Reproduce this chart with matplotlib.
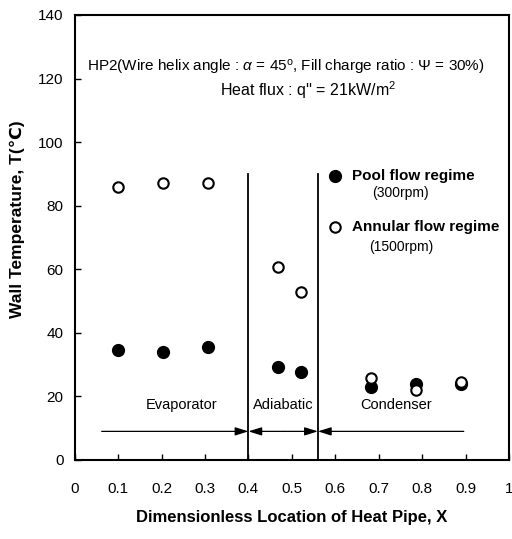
import matplotlib
matplotlib.use("Agg")
import matplotlib.pyplot as plt
from matplotlib import font_manager

# 使えるフォントを確認 (Narrow があれば使う)
names = set(f.name for f in font_manager.fontManager.ttflist)
base = 'Liberation Sans Narrow' if 'Liberation Sans Narrow' in names else 'Liberation Sans'
plt.rcParams['font.family'] = [base, 'DejaVu Sans']
plt.rcParams['mathtext.fontset'] = 'custom'
plt.rcParams['mathtext.it'] = base + ':italic'
plt.rcParams['mathtext.rm'] = base

# データ
x_pos = [0.10, 0.203, 0.307, 0.468, 0.522, 0.682, 0.786, 0.889]
pool_T = [34.6, 34.1, 35.6, 29.2, 27.8, 23.0, 24.0, 24.0]
annular_T = [86.0, 87.0, 87.0, 60.8, 52.9, 25.8, 22.0, 24.6]

section_bounds = [0.4, 0.56]
xticks = [0, 0.1, 0.2, 0.3, 0.4, 0.5, 0.6, 0.7, 0.8, 0.9, 1]
xticklabels = ['0', '0.1', '0.2', '0.3', '0.4', '0.5', '0.6', '0.7', '0.8', '0.9', '1']
yticks = [0, 20, 40, 60, 80, 100, 120, 140]

fig = plt.figure(figsize=(5.12, 5.39), dpi=100)
ax = fig.add_axes([0.146, 0.1466, 0.848, 0.8256])

ax.plot(x_pos, pool_T, 'o', color='black', markersize=8.5, zorder=3)
ax.plot(x_pos, annular_T, 'o', markerfacecolor='white', markeredgecolor='black',
        markeredgewidth=1.5, markersize=7.5, zorder=4)

# 区間の境界線
for b in section_bounds:
    ax.plot([b, b], [0, 90], color='black', lw=1.3)

# 矢印
ap = dict(arrowstyle='-|>,head_length=0.8,head_width=0.25', color='black', lw=0.9,
          shrinkA=0, shrinkB=0)
ay = 9
ax.annotate('', xy=(0.4, ay), xytext=(0.062, ay), arrowprops=ap)
ax.annotate('', xy=(0.4, ay), xytext=(0.48, ay), arrowprops=ap)
ax.annotate('', xy=(0.56, ay), xytext=(0.48, ay), arrowprops=ap)
ax.annotate('', xy=(0.56, ay), xytext=(0.896, ay), arrowprops=ap)

ax.text(0.245, 17.3, 'Evaporator', ha='center', va='center', fontsize=10.5)
ax.text(0.48, 17.3, 'Adiabatic', ha='center', va='center', fontsize=10.5)
ax.text(0.74, 17.3, 'Condenser', ha='center', va='center', fontsize=10.5)

# 条件の注記
ax.text(0.486, 123.6, r'HP2(Wire helix angle : $\alpha$ = 45$^{\rm o}$, Fill charge ratio : $\mathit{\Psi}$ = 30%)',
        ha='center', va='center', fontsize=11)
ax.text(0.537, 116.4, r"Heat flux : q'' = 21kW/m$^2$", ha='center', va='center', fontsize=11.5)

# 凡例 (手書き)
ax.plot([0.60], [89.3], 'o', color='black', markersize=8.5)
ax.text(0.638, 89.3, 'Pool flow regime', ha='left', va='center', fontsize=11, fontweight='bold')
ax.text(0.751, 84, '(300rpm)', ha='center', va='center', fontsize=10)
ax.plot([0.60], [73.3], 'o', markerfacecolor='white', markeredgecolor='black',
        markeredgewidth=1.5, markersize=7.5)
ax.text(0.638, 73.3, 'Annular flow regime', ha='left', va='center', fontsize=11, fontweight='bold')
ax.text(0.751, 67, '(1500rpm)', ha='center', va='center', fontsize=10)

ax.set_xlim(0, 1)
ax.set_ylim(0, 140)
ax.set_xticks(xticks)
ax.set_xticklabels(xticklabels)
ax.set_yticks(yticks)
ax.tick_params(direction='in', length=4, width=1, labelsize=11)
ax.tick_params(axis='x', pad=16)
ax.tick_params(axis='y', pad=8)
for s in ax.spines.values():
    s.set_linewidth(1.5)

ax.set_xlabel('Dimensionless Location of Heat Pipe, X', fontsize=12, fontweight='bold', labelpad=10)
ax.set_ylabel('Wall Temperature, T(\u2103)', fontsize=12.5, fontweight='bold',
              family=[base, 'DejaVu Sans'])
ax.yaxis.set_label_coords(-0.115, 0.54)

fig.savefig('out.png', dpi=100)
